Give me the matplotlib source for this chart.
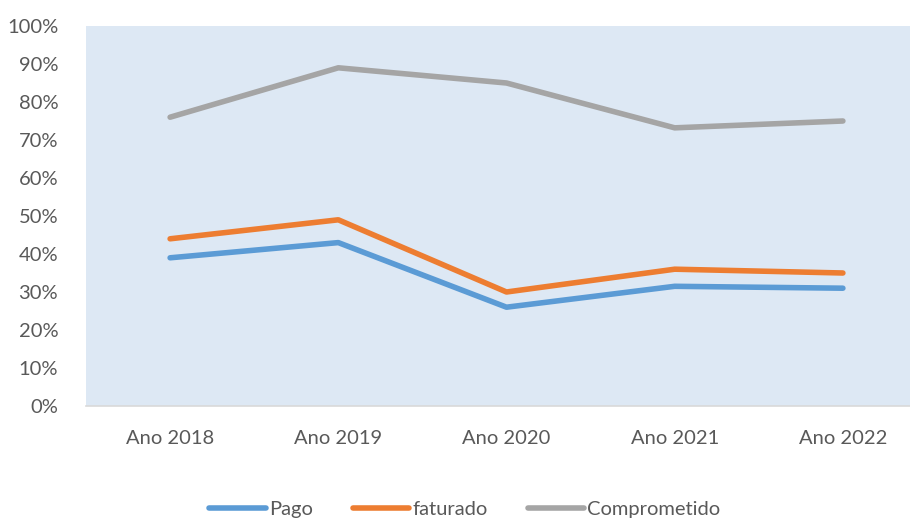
import matplotlib
matplotlib.use("Agg")
import matplotlib.pyplot as plt
from matplotlib.ticker import FuncFormatter, MultipleLocator

categories = ["Ano 2018", "Ano 2019", "Ano 2020", "Ano 2021", "Ano 2022"]
pago = [39, 43, 26, 31.5, 31]
faturado = [44, 49, 30, 36, 35]
comprometido = [76, 89, 85, 73.2, 75]

plt.rcParams['font.family'] = ['Lato', 'DejaVu Sans']
txt = '#595959'

fig = plt.figure(figsize=(9.10, 5.21), dpi=100)
W, H = 910, 521
left, right, top, bottom = 86, 927, 26, 406
ax = fig.add_axes([left / W, (H - bottom) / H, (right - left) / W, (bottom - top) / H])
ax.set_facecolor('#DDE8F4')

x = list(range(len(categories)))
lw = 4.0
ax.plot(x, pago, color='#5B9BD5', lw=lw, label='Pago', solid_capstyle='round')
ax.plot(x, faturado, color='#ED7D31', lw=lw, label='faturado', solid_capstyle='round')
ax.plot(x, comprometido, color='#A5A5A5', lw=lw, label='Comprometido', solid_capstyle='round')

ax.set_xlim(-0.5, 4.5)
ax.set_ylim(0, 100)
ax.yaxis.set_major_locator(MultipleLocator(10))
ax.yaxis.set_major_formatter(FuncFormatter(lambda v, p: f"{int(round(v))}%"))
ax.set_xticks(x)
ax.set_xticklabels(categories)
for s in ['top', 'right', 'left']:
    ax.spines[s].set_visible(False)
ax.spines['bottom'].set_color('#D9D9D9')
ax.spines['bottom'].set_linewidth(1.2)
ax.tick_params(axis='both', length=0, labelsize=14.5, colors=txt)
ax.tick_params(axis='y', pad=20)
ax.tick_params(axis='x', pad=17)

leg = fig.legend(loc='center', bbox_to_anchor=(465 / W, (H - 509) / H), ncol=3, frameon=False,
                 fontsize=14.5, handlelength=2.8, handletextpad=0.15, columnspacing=2.0)
for t in leg.get_texts():
    t.set_color(txt)

fig.savefig('out.png', dpi=100)
